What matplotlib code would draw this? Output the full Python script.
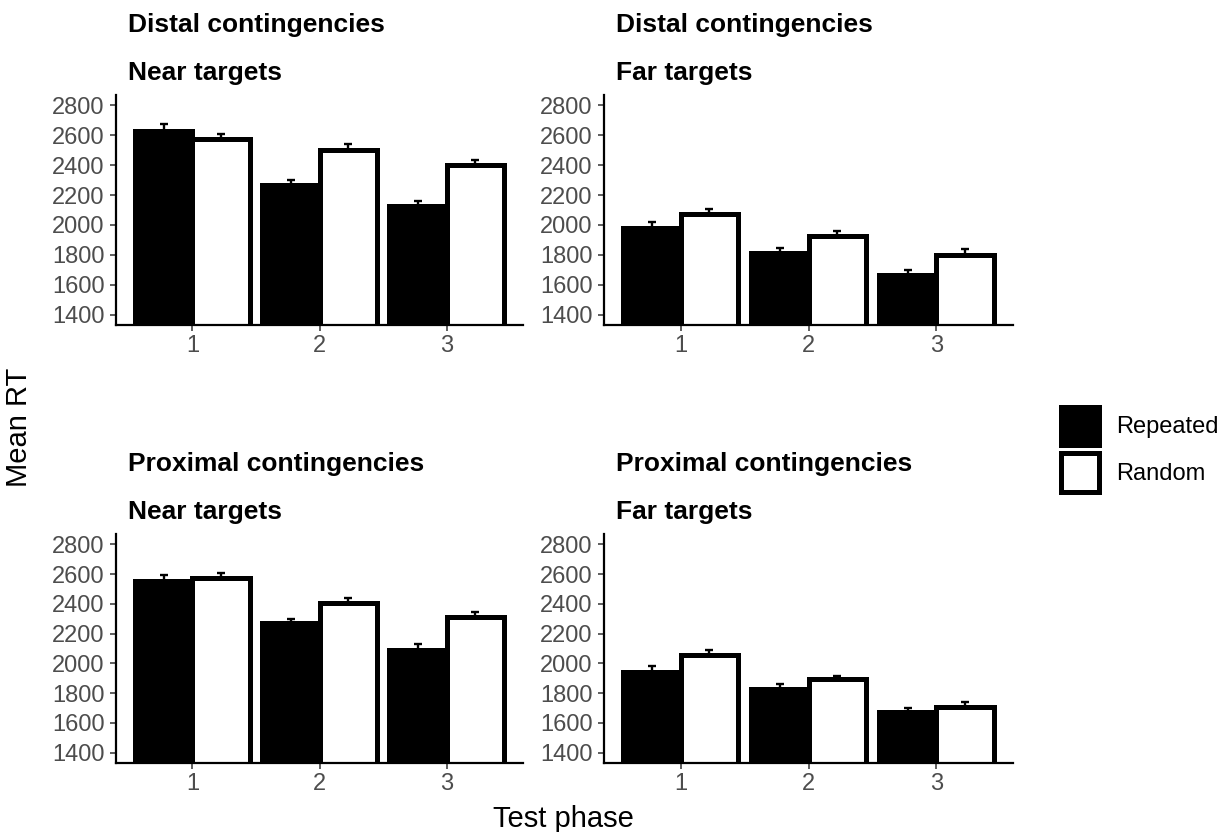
import numpy as np
import matplotlib
matplotlib.use("Agg")
import matplotlib.pyplot as plt

plt.rcParams['font.family'] = ['Liberation Sans', 'DejaVu Sans']

# ============ data ============
PHASES = [1, 2, 3]
CONDITIONS = ['Repeated', 'Random']

# panel order: (row, col) -> (contingency title, target title)
PANEL_TITLES = [
    ('Distal contingencies', 'Near targets'),
    ('Distal contingencies', 'Far targets'),
    ('Proximal contingencies', 'Near targets'),
    ('Proximal contingencies', 'Far targets'),
]

# mean RT per test phase
distal_near_rep = [2632, 2268, 2128]
distal_near_ran = [2575, 2500, 2400]
distal_far_rep = [1981, 1810, 1665]
distal_far_ran = [2071, 1925, 1802]
proximal_near_rep = [2556, 2269, 2093]
proximal_near_ran = [2571, 2409, 2313]
proximal_far_rep = [1942, 1830, 1672]
proximal_far_ran = [2057, 1894, 1709]

# standard errors
distal_near_rep_se = [43, 34, 32]
distal_near_ran_se = [36, 42, 35]
distal_far_rep_se = [39, 34, 30]
distal_far_ran_se = [38, 37, 40]
proximal_near_rep_se = [39, 32, 35]
proximal_near_ran_se = [38, 29, 35]
proximal_far_rep_se = [39, 32, 30]
proximal_far_ran_se = [34, 22, 28]

Y_TICKS = [1400, 1600, 1800, 2000, 2200, 2400, 2600, 2800]

PANEL_DATA = [
    (distal_near_rep, distal_near_rep_se, distal_near_ran, distal_near_ran_se),
    (distal_far_rep, distal_far_rep_se, distal_far_ran, distal_far_ran_se),
    (proximal_near_rep, proximal_near_rep_se, proximal_near_ran, proximal_near_ran_se),
    (proximal_far_rep, proximal_far_rep_se, proximal_far_ran, proximal_far_ran_se),
]

W, H = 1225, 832
# panel boxes in pixels: left, top, right, bottom
PANEL_BOX = [
    (116, 95, 523, 325),
    (604, 95, 1013, 325),
    (116, 534, 523, 763),
    (604, 534, 1013, 763),
]

BAR_W = 0.45
EDGE_LW = 3.6
TICK_COLOR = '#4D4D4D'


def draw_panel(ax, rep, rep_se, ran, ran_se, titles):
    x = np.array(PHASES, dtype=float)

    # error bars sit under the bars so only the upper half shows
    ax.errorbar(x - BAR_W / 2, rep, yerr=rep_se, fmt='none', ecolor='black',
                elinewidth=1.7, capsize=3.2, capthick=1.7, zorder=1)
    ax.errorbar(x + BAR_W / 2, ran, yerr=ran_se, fmt='none', ecolor='black',
                elinewidth=1.7, capsize=3.2, capthick=1.7, zorder=1)

    b_rep = ax.bar(x - BAR_W / 2, rep, width=BAR_W, color='black',
                   edgecolor='black', linewidth=EDGE_LW, zorder=2, label='Repeated')
    b_ran = ax.bar(x + BAR_W / 2, ran, width=BAR_W, color='white',
                   edgecolor='black', linewidth=EDGE_LW, zorder=2, label='Random')

    ax.set_xlim(0.4, 3.6)
    ax.set_ylim(1330, 2870)
    ax.set_xticks(PHASES)
    ax.set_xticklabels([str(p) for p in PHASES])
    ax.set_yticks(Y_TICKS)

    for s in ['top', 'right']:
        ax.spines[s].set_visible(False)
    for s in ['left', 'bottom']:
        ax.spines[s].set_linewidth(1.6)
        ax.spines[s].set_color('black')

    ax.tick_params(axis='both', direction='out', length=4.3, width=1.1,
                   color='#333333', labelcolor=TICK_COLOR, labelsize=17)
    ax.tick_params(axis='y', pad=4)
    ax.tick_params(axis='x', pad=3)

    # two-line panel heading, left aligned
    ax.annotate(titles[0], xy=(0, 1), xycoords='axes fraction',
                xytext=(12, 63), textcoords='offset pixels',
                ha='left', va='baseline', fontsize=19, fontweight='bold', color='black')
    ax.annotate(titles[1], xy=(0, 1), xycoords='axes fraction',
                xytext=(12, 15), textcoords='offset pixels',
                ha='left', va='baseline', fontsize=19, fontweight='bold', color='black')
    return b_rep, b_ran


def main():
    fig = plt.figure(figsize=(W / 100, H / 100), dpi=100)
    fig.patch.set_facecolor('white')

    handles = None
    for box, data, titles in zip(PANEL_BOX, PANEL_DATA, PANEL_TITLES):
        l, t, r, b = box
        ax = fig.add_axes([l / W, 1 - b / H, (r - l) / W, (b - t) / H])
        handles = draw_panel(ax, *data, titles)

    fig.text(27 / W, 1 - 427 / H, 'Mean RT', rotation=90, rotation_mode='anchor',
             ha='center', va='baseline', fontsize=21)
    fig.text(563 / W, 1 - 827 / H, 'Test phase', ha='center', va='baseline', fontsize=21)

    # square keys: handleheight is reduced internally by the legend descent
    fig.legend(handles, CONDITIONS, loc='upper left',
               bbox_to_anchor=(1060.5 / W, 1 - 406.5 / H),
               frameon=False, fontsize=17, borderpad=0, borderaxespad=0,
               handlelength=1.65, handleheight=2.16, labelspacing=0.34,
               handletextpad=0.7)

    fig.savefig('out.png', dpi=100, facecolor='white')
    plt.close(fig)


if __name__ == "__main__":
    main()
